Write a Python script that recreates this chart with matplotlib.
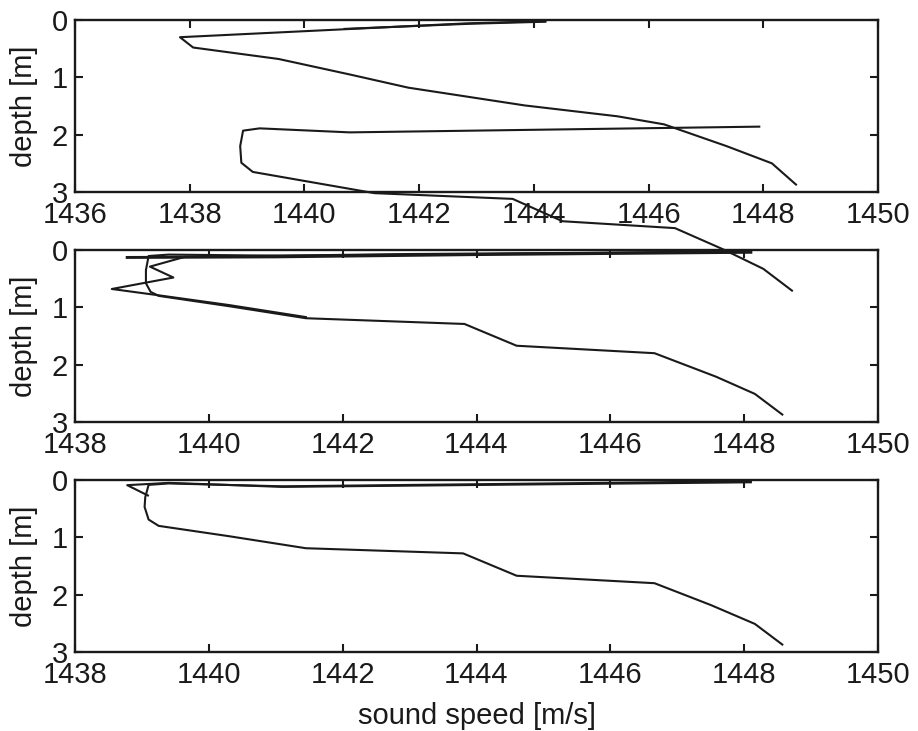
import matplotlib
matplotlib.use("Agg")
import matplotlib.pyplot as plt

plt.rcParams['font.family'] = ['Liberation Sans', 'DejaVu Sans']

# ---------------- data ----------------
# Panel 1 (top)
p1_a_speed = [1444.2, 1442.8, 1437.83, 1438.06, 1439.55, 1440.79, 1441.81,
              1443.84, 1445.46, 1446.27, 1447.36, 1448.15, 1448.57]
p1_a_depth = [0.02, 0.06, 0.30, 0.48, 0.68, 0.95, 1.18,
              1.49, 1.68, 1.82, 2.20, 2.50, 2.87]
p1_c_speed = [1440.7, 1442.9, 1444.2]
p1_c_depth = [0.155, 0.065, 0.03]
p1_b_speed = [1447.93, 1440.79, 1439.22, 1438.93, 1438.88, 1438.9, 1439.1,
              1441.22, 1443.63, 1444.5, 1446.46, 1447.3, 1448.0, 1448.5]
p1_b_depth = [1.86, 1.96, 1.89, 1.93, 2.2, 2.49, 2.65,
              3.02, 3.12, 3.51, 3.63, 4.0, 4.34, 4.72]

# Panel 2 (middle)
p2_main_speed = [1448.1, 1445.9, 1441.1, 1439.4, 1439.1, 1439.06, 1439.06,
                 1439.13, 1439.25, 1440.3, 1441.45, 1443.82, 1444.6, 1446.66,
                 1447.58, 1448.16, 1448.57]
p2_main_depth = [0.02, 0.05, 0.10, 0.08, 0.105, 0.35, 0.58,
                 0.73, 0.80, 0.98, 1.19, 1.29, 1.67, 1.80,
                 2.21, 2.51, 2.87]
p2_flat_speed = [1438.78, 1441.0, 1444.0, 1448.1]
p2_flat_depth = [0.13, 0.12, 0.08, 0.04]
p2_zig_speed = [1448.1, 1443.0, 1439.64, 1439.12, 1439.47, 1438.55, 1439.25,
                1440.3, 1441.45]
p2_zig_depth = [0.03, 0.07, 0.12, 0.29, 0.48, 0.68, 0.79,
                0.96, 1.17]

# Panel 3 (bottom)
p3_down_speed = [1448.1, 1445.9, 1441.1, 1439.4, 1439.1, 1439.05, 1439.04,
                 1439.1, 1439.25, 1440.3, 1441.45, 1443.8, 1444.6, 1446.66,
                 1447.5, 1448.16, 1448.57]
p3_down_depth = [0.02, 0.05, 0.11, 0.06, 0.085, 0.3, 0.47,
                 0.69, 0.80, 0.98, 1.19, 1.28, 1.67, 1.80,
                 2.18, 2.51, 2.87]
p3_up_speed = [1448.1, 1441.1, 1439.4, 1438.78, 1439.09]
p3_up_depth = [0.04, 0.12, 0.05, 0.09, 0.27]

xlims = [(1436, 1450), (1438, 1450), (1438, 1450)]
xticks = [list(range(1436, 1451, 2)), list(range(1438, 1451, 2)),
          list(range(1438, 1451, 2))]
yticks = [0, 1, 2, 3]

# ---------------- figure ----------------
W, H = 918, 731
fig = plt.figure(figsize=(W / 100, H / 100), dpi=100)

left_px, right_px = 75, 878
panel_px = [(20, 192), (250, 422), (480, 652)]

FS = 21
LW = 1.5
axes = []
for (top, bot), xl, xt in zip(panel_px, xlims, xticks):
    ax = fig.add_axes([left_px / W, 1 - bot / H, (right_px - left_px) / W,
                       (bot - top) / H])
    ax.set_xlim(*xl)
    ax.set_ylim(3, 0)
    ax.set_xticks(xt)
    ax.set_yticks(yticks)
    ax.tick_params(direction='in', length=6, width=1.5, top=True, right=True,
                   labelsize=FS, colors='#1a1a1a')
    ax.tick_params(axis='x', pad=6.5)
    ax.tick_params(axis='y', pad=5)
    for s in ax.spines.values():
        s.set_linewidth(1.7)
        s.set_color('#1a1a1a')
    ax.set_ylabel('depth [m]', fontsize=FS, labelpad=10, color='#1a1a1a')
    ax.patch.set_alpha(0)
    axes.append(ax)

ax1, ax2, ax3 = axes
ax1.set_zorder(5)

lc = '#1a1a1a'
ax1.plot(p1_a_speed, p1_a_depth, color=lc, lw=LW, clip_on=False)
ax1.plot(p1_c_speed, p1_c_depth, color=lc, lw=LW, clip_on=False)
ax1.plot(p1_b_speed, p1_b_depth, color=lc, lw=LW, clip_on=False)

ax2.plot(p2_main_speed, p2_main_depth, color=lc, lw=LW)
ax2.plot(p2_flat_speed, p2_flat_depth, color=lc, lw=LW + 0.6)
ax2.plot(p2_zig_speed, p2_zig_depth, color=lc, lw=LW)

ax3.plot(p3_down_speed, p3_down_depth, color=lc, lw=LW)
ax3.plot(p3_up_speed, p3_up_depth, color=lc, lw=LW)

ax3.set_xlabel('sound speed [m/s]', fontsize=FS, labelpad=9, color='#1a1a1a')

fig.savefig('out.png', dpi=100)
